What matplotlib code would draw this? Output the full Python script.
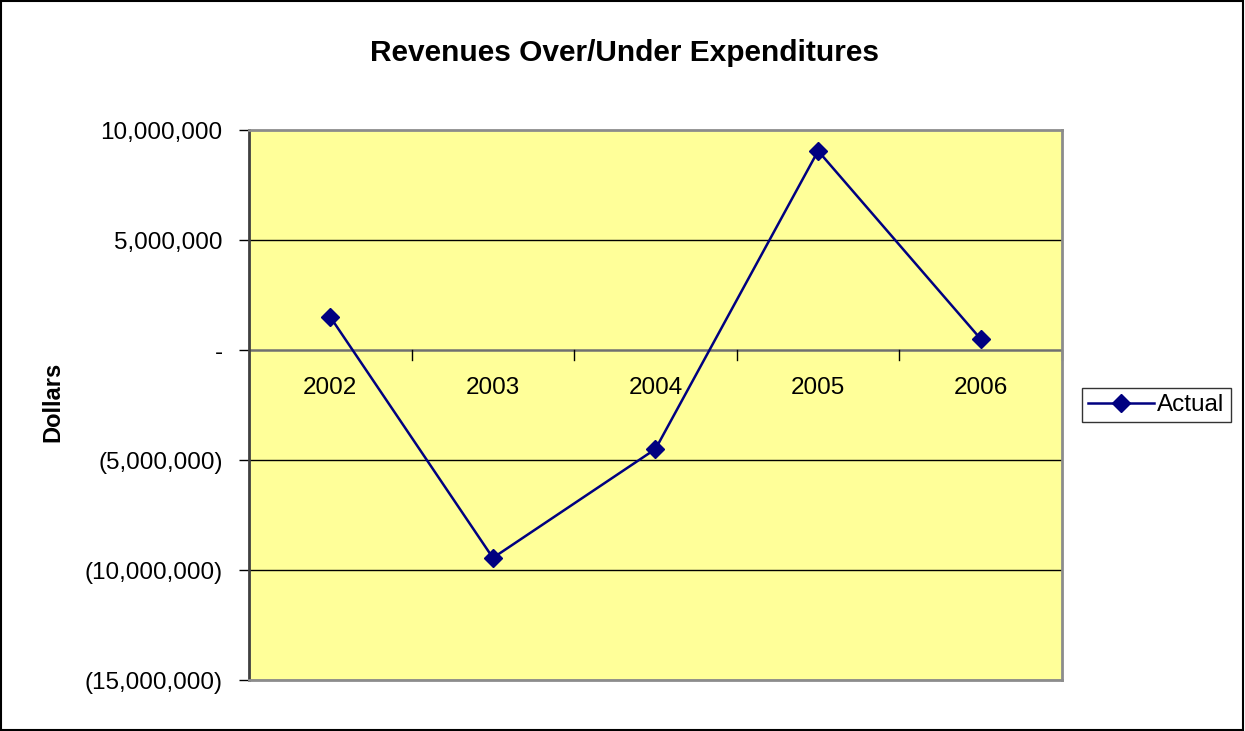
import matplotlib.pyplot as plt
from matplotlib.patches import Rectangle
from matplotlib.ticker import FuncFormatter

years = ["2002", "2003", "2004", "2005", "2006"]
actual = [1500000, -9450000, -4500000, 9050000, 500000]
y_ticks = [10000000, 5000000, 0, -5000000, -10000000, -15000000]

plt.rcParams['font.family'] = ['Liberation Sans', 'DejaVu Sans']

fig = plt.figure(figsize=(12.45, 7.31), dpi=100)
W, H = 1245, 731
ax = fig.add_axes([249 / W, 1 - 680 / H, (1062 - 249) / W, (680 - 130) / H])
ax.set_facecolor('#FFFF99')

def fmt(v, pos):
    if v == 0:
        return "-"
    if v < 0:
        return "({:,.0f})".format(-v)
    return "{:,.0f}".format(v)

x = list(range(len(years)))
ax.set_xlim(-0.5, len(years) - 0.5)
ax.set_ylim(-15000000, 10000000)
ax.set_yticks(y_ticks)
ax.yaxis.set_major_formatter(FuncFormatter(fmt))
ax.tick_params(axis='y', labelsize=17.5, length=7, direction='out', width=1, pad=12)
ax.set_xticks([])

for v in y_ticks[1:]:
    if v != 0:
        ax.axhline(v, color='black', lw=1, zorder=1)
ax.axhline(0, color='#707070', lw=1.8, zorder=1)

# category tick marks at zero line and labels
for b in range(1, len(years) + 1):
    ax.plot([b - 0.5, b - 0.5], [0, -450000], color='black', lw=1, zorder=1, clip_on=False)
for i, yr in enumerate(years):
    ax.text(i, -1750000, yr, ha='center', va='center', fontsize=17.5)

for s in ['top', 'right', 'bottom']:
    ax.spines[s].set_color('#8C8C8C')
    ax.spines[s].set_linewidth(2)
ax.spines['left'].set_color('#404040')
ax.spines['left'].set_linewidth(2)

line, = ax.plot(x, actual, color='#000080', lw=1.8, marker='D', markersize=9, zorder=3, label='Actual')

fig.text(53 / W, 1 - 402 / H, "Dollars", rotation=90, ha='center', va='center',
         fontsize=17, fontweight='bold')
fig.text(625 / W, 1 - 53 / H, "Revenues Over/Under Expenditures", ha='center', va='center',
         fontsize=21.5, fontweight='bold')

leg = fig.legend(handles=[line], loc='center left', bbox_to_anchor=(1082 / W, 1 - 405 / H),
                 frameon=True, fancybox=False, fontsize=17.5, handlelength=2.7,
                 borderpad=0.25, handletextpad=0.15, borderaxespad=0)
leg.get_frame().set_edgecolor('black')
leg.get_frame().set_linewidth(1)

fig.patches.append(Rectangle((0.001, 0.002), 0.997, 0.996, transform=fig.transFigure,
                             fill=False, edgecolor='black', lw=1.5))

fig.savefig("out.png", dpi=100)
